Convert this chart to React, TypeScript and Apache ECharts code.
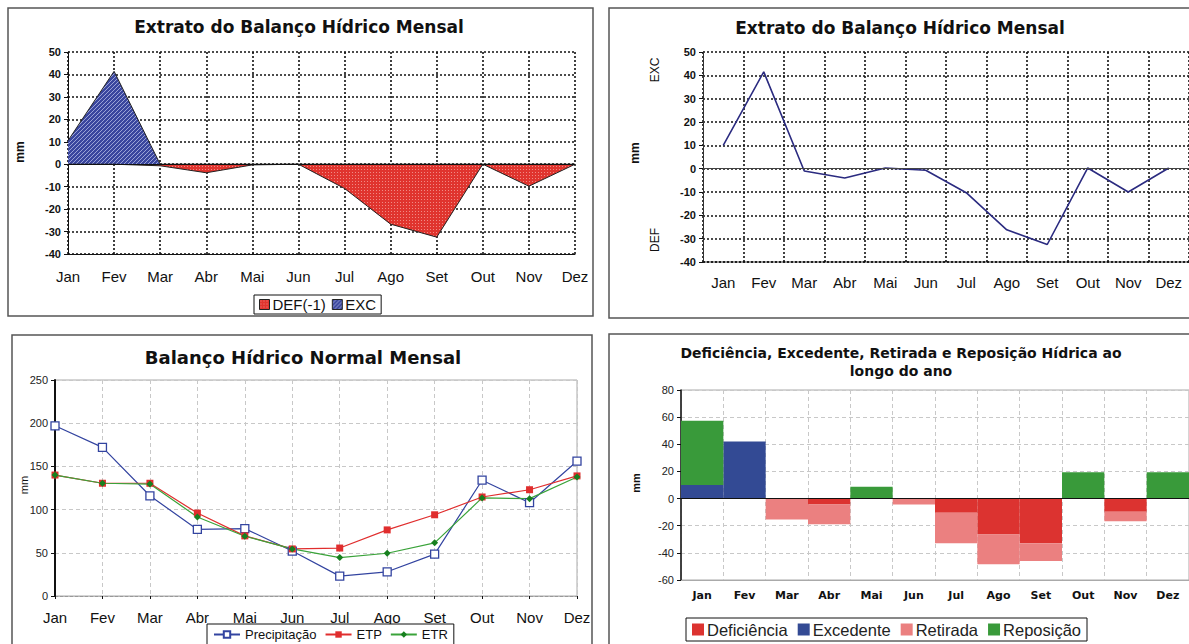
import React, { useEffect, useRef } from 'react';
import * as echarts from 'echarts';

const months = ['Jan', 'Fev', 'Mar', 'Abr', 'Mai', 'Jun', 'Jul', 'Ago', 'Set', 'Out', 'Nov', 'Dez'];
// Panel 1: Extrato (areas)
const excArea = [10.5, 41.4, 0, 0, 0, 0, 0, 0, 0, 0, 0, 0];
const defArea = [0, 0, -0.7, -3.8, -0.3, 0, -10.8, -26.7, -32.5, 0, -9.8, 0];
// Panel 2: Extrato (line)
const extratoLine = [10, 41.5, -1, -4, 0.3, -0.7, -10.3, -26.2, -32.5, 0.3, -10, 0.3];
// Panel 3: Balanço hídrico normal
const precip = [197, 172, 116, 77, 78, 52, 23, 28, 48.5, 134, 108, 156];
const etp = [140, 130.5, 130.5, 96, 69.6, 54.5, 55.5, 76.5, 94, 114.6, 123, 139];
const etr = [140, 130.5, 129.6, 91.5, 69.2, 54.5, 44.5, 49.5, 61.5, 113.5, 112.7, 137.7];
// Panel 4: stacked bars
const deficiencia = [0, 0, 0, -4.4, 0, 0, -10.4, -26.5, -33, 0, -9.8, 0];
const excedente = [10, 42, 0, 0, 0, 0, 0, 0, 0, 0, 0, 0];
const retirada = [0, 0, -15.5, -14.5, 0, -4.4, -22.5, -21.9, -13, 0, -6.9, 0];
const reposicao = [47.4, 0, 0, 0, 8.8, 0, 0, 0, 0, 19.4, 0, 19.4];

const FONT = 'Liberation Sans, Arial, sans-serif';
const WIDE = 'DejaVu Sans, Verdana, sans-serif';

const dotted = { color: '#111', width: 1.6, type: [2, 2] as number[] };
const lightDash = { color: '#c8c8c8', width: 1, type: [4, 3] as number[] };

function hatch(): any {
  const c = document.createElement('canvas');
  c.width = 4;
  c.height = 4;
  const g = c.getContext('2d');
  if (!g) return '#4a55aa';
  g.fillStyle = '#3a469e';
  g.fillRect(0, 0, 4, 4);
  g.fillStyle = '#9aa2d6';
  for (let i = 0; i < 4; i++) g.fillRect(i, 3 - i, 1, 1);
  return { image: c, repeat: 'repeat' };
}

function dots(): any {
  const c = document.createElement('canvas');
  c.width = 3;
  c.height = 3;
  const g = c.getContext('2d');
  if (!g) return '#e23e38';
  g.fillStyle = '#e0342e';
  g.fillRect(0, 0, 3, 3);
  g.fillStyle = '#f08a84';
  g.fillRect(1, 1, 1, 1);
  return { image: c, repeat: 'repeat' };
}

function txt(text: string, x: number, y: number, size: number, weight: string, rot = 0, family = FONT) {
  return {
    type: 'text',
    x,
    y,
    rotation: rot,
    silent: true,
    style: {
      text,
      fontSize: size,
      fontWeight: weight,
      fontFamily: family,
      fill: '#111',
      align: 'center',
      verticalAlign: 'middle',
      textAlign: 'center',
      textVerticalAlign: 'middle',
    },
  };
}

function panel(x: number, y: number, w: number, h: number) {
  return {
    type: 'rect',
    silent: true,
    shape: { x, y, width: w, height: h },
    style: { fill: 'none', stroke: '#555', lineWidth: 1.5 },
  };
}

const zeroLine = (color: string) => ({
  silent: true,
  symbol: 'none',
  label: { show: false },
  lineStyle: { color, type: 'solid', width: 1 },
  data: [{ yAxis: 0 }],
});

export default function App() {
  const ref = useRef<HTMLDivElement>(null);
  useEffect(() => {
    if (!ref.current) return;
    const chart = echarts.init(ref.current, null, { renderer: 'svg' });
    const blueFill = hatch();
    const redFill = dots();
    const option: any = {
      animation: false,
      backgroundColor: '#fff',
      textStyle: { fontFamily: FONT },
      graphic: [
        panel(8, 8, 585, 308),
        panel(609, 8, 620, 310),
        panel(12, 335, 580, 330),
        panel(609, 334, 620, 330),
        txt('Extrato do Balanço Hídrico Mensal', 299, 27, 17, 'bold', 0, WIDE),
        txt('Extrato do Balanço Hídrico Mensal', 900, 28, 17, 'bold', 0, WIDE),
        txt('Balanço Hídrico Normal Mensal', 303, 357, 18, 'bold', 0, WIDE),
        txt('Deficiência, Excedente, Retirada e Reposição Hídrica ao', 901, 353, 14, 'bold', 0, WIDE),
        txt('longo do ano', 901, 371, 14, 'bold', 0, WIDE),
        txt('mm', 20, 152, 12, 'bold', Math.PI / 2),
        txt('EXC', 655, 70, 12, 'normal', Math.PI / 2),
        txt('mm', 635, 153, 12, 'bold', Math.PI / 2),
        txt('DEF', 655, 240, 12, 'normal', Math.PI / 2),
        txt('mm', 24, 485, 11, 'normal', Math.PI / 2),
        txt('mm', 636, 483, 11, 'bold', Math.PI / 2),
      ],
      grid: [
        { left: 68, top: 52, width: 507, height: 202 },
        { left: 703, top: 52, width: 486, height: 210 },
        { left: 55, top: 380, width: 522, height: 216, show: true, borderColor: '#aaa', borderWidth: 1 },
        { left: 681, top: 390, width: 508, height: 190, show: true, borderColor: '#aaa', borderWidth: 1 },
      ],
      xAxis: [
        {
          type: 'category', gridIndex: 0, data: months, boundaryGap: false,
          axisLine: { onZero: false, lineStyle: { color: '#111', width: 1 } },
          axisTick: { show: false },
          axisLabel: { fontSize: 15, color: '#111', margin: 15 },
          splitLine: { show: true, lineStyle: dotted },
        },
        {
          type: 'category', gridIndex: 1, data: months, boundaryGap: true,
          axisLine: { onZero: false, lineStyle: dotted },
          axisTick: { show: false },
          axisLabel: { fontSize: 15, color: '#111', margin: 13 },
          splitLine: { show: true, lineStyle: dotted },
        },
        {
          type: 'category', gridIndex: 2, data: months, boundaryGap: false,
          axisLine: { onZero: false, lineStyle: { color: '#999', width: 1, type: [3, 2] } },
          axisTick: { show: true, length: 3, lineStyle: { color: '#111' } },
          axisLabel: { fontSize: 15, color: '#111', margin: 14 },
          splitLine: { show: true, lineStyle: lightDash },
        },
        {
          type: 'category', gridIndex: 3, data: months, boundaryGap: true,
          axisLine: { onZero: false, lineStyle: { color: '#aaa', width: 1 } },
          axisTick: { show: false },
          axisLabel: { fontSize: 11, fontWeight: 'bold', color: '#111', margin: 10, fontFamily: WIDE },
          splitLine: { show: true, lineStyle: lightDash },
        },
      ],
      yAxis: [
        {
          type: 'value', gridIndex: 0, min: -40, max: 50, interval: 10,
          axisLine: { show: true, lineStyle: { color: '#111', width: 1 } },
          axisTick: { show: true, length: 4, lineStyle: { color: '#111' } },
          axisLabel: { fontSize: 11, fontWeight: 'bold', color: '#111', margin: 7 },
          splitLine: { show: true, lineStyle: dotted },
        },
        {
          type: 'value', gridIndex: 1, min: -40, max: 50, interval: 10,
          axisLine: { show: true, lineStyle: { color: '#333', width: 1 } },
          axisTick: { show: true, length: 4, lineStyle: { color: '#111' } },
          axisLabel: { fontSize: 11, fontWeight: 'bold', color: '#111', margin: 7 },
          splitLine: { show: true, lineStyle: dotted },
        },
        {
          type: 'value', gridIndex: 2, min: 0, max: 250, interval: 50,
          axisLine: { show: true, lineStyle: { color: '#111', width: 2 } },
          axisTick: { show: true, length: 4, lineStyle: { color: '#111' } },
          axisLabel: { fontSize: 11, color: '#222', margin: 7 },
          splitLine: { show: true, lineStyle: lightDash },
        },
        {
          type: 'value', gridIndex: 3, min: -60, max: 80, interval: 20,
          axisLine: { show: true, lineStyle: { color: '#111', width: 1.5 } },
          axisTick: { show: true, length: 4, lineStyle: { color: '#111' } },
          axisLabel: { fontSize: 11, color: '#222', margin: 7 },
          splitLine: { show: true, lineStyle: lightDash },
        },
      ],
      legend: [
        {
          left: 254, top: 295, data: ['DEF(-1)', 'EXC'], icon: 'rect', itemWidth: 10, itemHeight: 10,
          itemGap: 6, padding: [2, 5], borderColor: '#111', borderWidth: 1, backgroundColor: '#fff',
          itemStyle: { borderColor: '#222', borderWidth: 1 },
          textStyle: { fontSize: 15, color: '#111', padding: [0, 0, 0, -2] },
        },
        {
          left: 207, top: 624, data: ['Precipitação', 'ETP', 'ETR'], itemWidth: 26, itemHeight: 8,
          itemGap: 8, padding: [4, 6], borderColor: '#111', borderWidth: 1, backgroundColor: '#fff',
          textStyle: { fontSize: 13, color: '#111' },
        },
        {
          left: 686, top: 618, data: ['Deficiência', 'Excedente', 'Retirada', 'Reposição'], icon: 'rect',
          itemWidth: 12, itemHeight: 12, itemGap: 10, padding: [3, 6], borderColor: '#111', borderWidth: 1,
          backgroundColor: '#fff', textStyle: { fontSize: 16.5, color: '#222', padding: [0, 0, 0, -2] },
        },
      ],
      series: [
        {
          name: 'EXC', type: 'line', xAxisIndex: 0, yAxisIndex: 0, data: excArea, symbol: 'none',
          itemStyle: { color: blueFill },
          lineStyle: { color: '#222', width: 1 },
          areaStyle: { color: blueFill, opacity: 1 },
          markLine: zeroLine('#111'),
        },
        {
          name: 'DEF(-1)', type: 'line', xAxisIndex: 0, yAxisIndex: 0, data: defArea, symbol: 'none',
          itemStyle: { color: redFill },
          lineStyle: { color: '#222', width: 1 },
          areaStyle: { color: redFill, opacity: 1 },
        },
        {
          name: 'Extrato', type: 'line', xAxisIndex: 1, yAxisIndex: 1, data: extratoLine, symbol: 'none',
          lineStyle: { color: '#2b2b80', width: 1.6 },
          markLine: zeroLine('#444'),
          z: 3,
        },
        {
          name: 'Precipitação', type: 'line', xAxisIndex: 2, yAxisIndex: 2, data: precip,
          symbol: 'rect', symbolSize: 8,
          itemStyle: { color: '#fff', borderColor: '#3344a0', borderWidth: 1.3 },
          lineStyle: { color: '#3344a0', width: 1.2 },
        },
        {
          name: 'ETP', type: 'line', xAxisIndex: 2, yAxisIndex: 2, data: etp,
          symbol: 'rect', symbolSize: 7,
          itemStyle: { color: '#e02e2e' },
          lineStyle: { color: '#e02e2e', width: 1.2 },
        },
        {
          name: 'ETR', type: 'line', xAxisIndex: 2, yAxisIndex: 2, data: etr,
          symbol: 'diamond', symbolSize: 7,
          itemStyle: { color: '#17801f' },
          lineStyle: { color: '#3aa33a', width: 1.2 },
        },
        {
          name: 'Deficiência', type: 'bar', xAxisIndex: 3, yAxisIndex: 3, stack: 'b', data: deficiencia,
          barCategoryGap: '0%', itemStyle: { color: '#dc3330' },
        },
        {
          name: 'Excedente', type: 'bar', xAxisIndex: 3, yAxisIndex: 3, stack: 'b', data: excedente,
          barCategoryGap: '0%', itemStyle: { color: '#334a94' },
        },
        {
          name: 'Retirada', type: 'bar', xAxisIndex: 3, yAxisIndex: 3, stack: 'b', data: retirada,
          barCategoryGap: '0%', itemStyle: { color: '#eb8080' },
        },
        {
          name: 'Reposição', type: 'bar', xAxisIndex: 3, yAxisIndex: 3, stack: 'b', data: reposicao,
          barCategoryGap: '0%', itemStyle: { color: '#399a3a' },
          markLine: zeroLine('#111'),
        },
      ],
    };
    chart.setOption(option);
    return () => chart.dispose();
  }, []);
  return (
    <div
      ref={ref}
      style={{ position: 'fixed', left: 0, top: 0, width: 1189, height: 644, background: '#fff' }}
    />
  );
}
